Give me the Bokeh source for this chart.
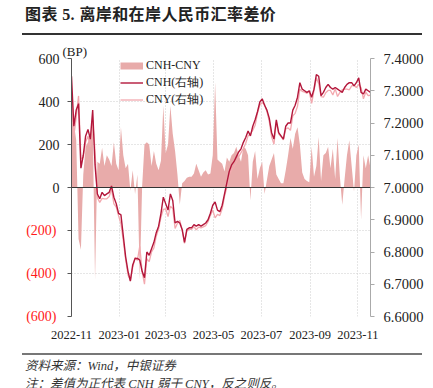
import pandas as pd
from bokeh.plotting import figure
from bokeh.layouts import column
from bokeh.models import (Range1d, LinearAxis, FixedTicker, NumeralTickFormatter, Span,
                          Legend, LegendItem, ColumnDataSource, DatetimeTickFormatter, Div)
from bokeh.embed import file_html
from bokeh.resources import INLINE

# ---------------- data (one value every 3 days) ----------------
start_date = "2022-11-01"
end_date = "2023-11-17"
step = "3D"

cnh = [7.345, 7.19, 7.24, 7.26, 7.06, 7.10, 7.16, 7.18, 7.15, 7.24,
       7.07, 6.98, 6.965, 6.985, 6.975, 6.98, 6.985, 7.005, 6.97, 6.95,
       6.92, 6.915, 6.85, 6.785, 6.74, 6.71, 6.76, 6.78, 6.78, 6.775,
       6.74, 6.72, 6.80, 6.79, 6.81, 6.83, 6.86, 6.88, 6.92, 6.97,
       6.95, 6.93, 6.98, 6.96, 6.89, 6.895, 6.89, 6.87, 6.83, 6.87,
       6.875, 6.875, 6.885, 6.88, 6.885, 6.88, 6.885, 6.89, 6.90, 6.92,
       6.945, 6.955, 6.93, 6.925, 6.945, 6.98, 7.015, 7.05, 7.07, 7.08,
       7.095, 7.11, 7.12, 7.14, 7.155, 7.175, 7.16, 7.19, 7.21, 7.235,
       7.265, 7.275, 7.255, 7.24, 7.215, 7.17, 7.15, 7.21, 7.17, 7.16,
       7.15, 7.19, 7.20, 7.20, 7.24, 7.255, 7.28, 7.325, 7.305, 7.30,
       7.295, 7.30, 7.28, 7.305, 7.35, 7.345, 7.285, 7.295, 7.31, 7.32,
       7.31, 7.305, 7.31, 7.305, 7.30, 7.295, 7.31, 7.32, 7.325, 7.325,
       7.315, 7.325, 7.34, 7.295, 7.29, 7.305, 7.30, 7.295]

spread_bp = [450, 300, 220, -240, -290, 60, 190, 210, 240, 300,
             -430, 120, 110, 185, 100, 150, 130, 100, 210, 110,
             80, 280, 150, 90, 110, -15, 80, -30, 60, -430,
             5, 200, 210, 200, 100, 170, 110, 80, 125, 380,
             160, 200, 380, 250, 170, 60, -80, 20, 30, 45,
             50, 50, 65, 110, 80, 50, 70, 80, 60, 65,
             150, 490, 130, 120, 110, 75, 140, 120, 150, 160,
             190, 150, 120, 190, 180, 150, -60, 120, 170, 40,
             90, 120, -30, 35, 100, 130, 160, 60, 40, 20,
             20, 80, 150, 230, 180, 250, 280, 200, 70, 40,
             30, 25, 190, 50, 100, 235, 30, 150, 160, 190,
             90, 180, 40, 230, 50, -80, 40, 150, 220, 100,
             -20, 150, 200, -150, 150, 90, 150, 90]

x_tick_labels = ["2022-11", "2023-01", "2023-03", "2023-05", "2023-07", "2023-09", "2023-11"]
left_ticks = [-600, -400, -200, 0, 200, 400, 600]
left_tick_labels = ["(600)", "(400)", "(200)", "0", "200", "400", "600"]
right_ticks = [6.6, 6.7, 6.8, 6.9, 7.0, 7.1, 7.2, 7.3, 7.4]

title_text = "图表 5. 离岸和在岸人民币汇率差价"
source_text = "资料来源：Wind，中银证券"
note_text = "注：差值为正代表 CNH 弱于 CNY，反之则反。"
unit_text = "(BP)"

# ---------------- build ----------------
dates = pd.date_range(start_date, periods=len(cnh), freq=step)
cny = [round(h - s / 10000.0, 4) for h, s in zip(cnh, spread_bp)]
src = ColumnDataSource(dict(date=dates, cnh=cnh, cny=cny, spread=spread_bp))

AREA = "#E8ABAA"
CNH_C = "#B3173B"
CNY_C = "#F3A9AF"
SERIF = "Liberation Serif"
W = 433

title_div = Div(text=(
    '<div style="margin-left:22px;width:400px;height:35px;box-sizing:border-box;'
    'border-bottom:2px solid #333;padding:4px 0 0 3px;letter-spacing:0.4px;'
    "font-family:'Liberation Serif','Noto Sans CJK SC';font-weight:bold;font-size:16px;"
    'line-height:21px;color:#222;white-space:nowrap;">' + title_text + '</div>'),
    width=W, height=36, margin=0)

footer_div = Div(text=(
    '<div style="margin:1px 0 0 22px;width:400px;box-sizing:border-box;'
    'border-top:2px solid #777;padding:2px 0 0 3px;'
    "font-family:'Liberation Serif','Noto Sans CJK SC';font-style:italic;font-size:12.5px;"
    'line-height:18px;color:#333;white-space:nowrap;">'
    + source_text + '<br>' + note_text + '</div>'),
    width=W, height=36, margin=0)

p = figure(width=W, height=316, output_backend="svg", toolbar_location=None,
           x_axis_type="datetime",
           x_range=Range1d(pd.Timestamp(start_date), pd.Timestamp(end_date)),
           y_range=Range1d(-600, 600),
           min_border_left=71, min_border_right=63, min_border_top=22, min_border_bottom=36)
p.outline_line_color = None
p.background_fill_color = "white"
p.extra_y_ranges = {"fx": Range1d(6.6, 7.4)}

# unit label above the left axis
p.title.text = unit_text
p.title.align = "left"
p.title.offset = -9
p.title.standoff = 0
p.title.text_font = SERIF
p.title.text_font_style = "normal"
p.title.text_font_size = "13px"
p.title.text_color = "#222222"

x_ms = [pd.Timestamp(s + "-01").value // 10**6 for s in x_tick_labels]

# x axis
xa = p.xaxis[0]
xa.ticker = FixedTicker(ticks=x_ms)
xa.formatter = DatetimeTickFormatter(months="%Y-%m", days="%Y-%m")
xa.major_label_overrides = {m: l for m, l in zip(x_ms, x_tick_labels)}
xa.axis_line_color = None
xa.major_tick_line_color = None
xa.minor_tick_line_color = None
xa.major_label_standoff = 8
xa.major_label_text_font = SERIF
xa.major_label_text_font_size = "12.5px"
xa.major_label_text_color = "#222222"

# left axis (inner): line, ticks, non-negative labels in black
ya = p.yaxis[0]
ya.ticker = FixedTicker(ticks=left_ticks)
ya.major_label_overrides = {t: (l if t >= 0 else "") for t, l in zip(left_ticks, left_tick_labels)}
ya.axis_line_color = "#555555"
ya.major_tick_line_color = "#555555"
ya.major_tick_out = 4
ya.major_tick_in = 0
ya.minor_tick_line_color = None
ya.major_label_standoff = 8
ya.major_label_text_font = SERIF
ya.major_label_text_font_size = "14px"
ya.major_label_text_color = "#222222"

# left axis (outer): negative labels in red, pulled back onto the inner axis' label column
neg_ticks = [t for t in left_ticks if t < 0]
na = LinearAxis(ticker=FixedTicker(ticks=neg_ticks),
                major_label_overrides={t: l for t, l in zip(left_ticks, left_tick_labels) if t < 0})
na.axis_line_color = None
na.major_tick_line_color = None
na.major_tick_out = 0
na.major_tick_in = 0
na.minor_tick_line_color = None
na.major_label_standoff = -21
na.major_label_text_font = SERIF
na.major_label_text_font_size = "14px"
na.major_label_text_color = "#FF1A1A"
p.add_layout(na, "left")

# right axis
ra = LinearAxis(y_range_name="fx", ticker=FixedTicker(ticks=right_ticks),
                formatter=NumeralTickFormatter(format="0.0000"))
ra.axis_line_color = "#AAAAAA"
ra.major_tick_line_color = "#AAAAAA"
ra.major_tick_out = 4
ra.major_tick_in = 0
ra.minor_tick_line_color = None
ra.major_label_standoff = 9
ra.major_label_text_font = SERIF
ra.major_label_text_font_size = "14.5px"
ra.major_label_text_color = "#222222"
p.add_layout(ra, "right")

# grids
p.xgrid.ticker = FixedTicker(ticks=x_ms)
p.ygrid.ticker = FixedTicker(ticks=left_ticks)
for g in (p.xgrid[0], p.ygrid[0]):
    g.grid_line_color = "#CCCCCC"
    g.grid_line_dash = "1 2"
    g.grid_line_width = 1

# glyphs
area_r = p.varea(x="date", y1=0, y2="spread", source=src, fill_color=AREA, fill_alpha=1.0)
cny_r = p.line(x="date", y="cny", source=src, y_range_name="fx", line_color=CNY_C, line_width=1.3)
cnh_r = p.line(x="date", y="cnh", source=src, y_range_name="fx", line_color=CNH_C, line_width=1.4)
# legend swatch for the spread area (single point: draws nothing in the plot)
swatch_r = p.line(x=[dates[0]], y=[0], line_color=AREA, line_width=7)

p.add_layout(Span(location=0, dimension="width", line_color="#333333", line_width=1.2))

legend = Legend(items=[LegendItem(label="CNH-CNY", renderers=[swatch_r]),
                       LegendItem(label="CNH(右轴)", renderers=[cnh_r]),
                       LegendItem(label="CNY(右轴)", renderers=[cny_r])],
                location=(49, 208), orientation="vertical",
                glyph_width=23, glyph_height=17, label_height=17, spacing=0,
                padding=0, margin=0, label_standoff=3,
                border_line_color=None, background_fill_alpha=0,
                label_text_font=SERIF, label_text_font_size="12px", label_text_color="#222222")
p.add_layout(legend)

layout = column(title_div, p, footer_div, spacing=0)
open("out.html", "w").write(file_html(layout, INLINE))
